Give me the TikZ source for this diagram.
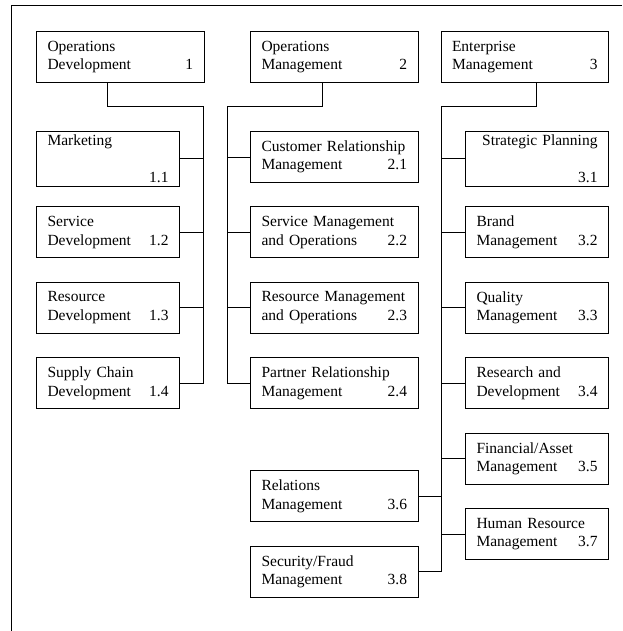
\documentclass[tikz,border=0pt]{standalone}
\usepackage{fontspec}
\setmainfont{Liberation Serif}
\begin{document}
\begin{tikzpicture}[x=1pt,y=-1pt,
    unit/.style={draw,line width=1pt,anchor=north west,align=left,inner xsep=11pt,minimum height=51pt,font=\fontsize{15.5}{18.5}\selectfont},
    wide/.style={unit,text width=145.5pt},
    narrow/.style={unit,text width=121pt},
    link/.style={line width=0.9pt}]
    \useasboundingbox (0,0) rectangle (622,631);
    \draw[line width=0.8pt] (622,5) -| (11,631);

    % top level
    \node[wide] (od) at (36,31) {Operations\\Development\hfill 1};
    \node[wide] (om) at (250,31) {Operations\\Management\hfill 2};
    \node[wide] (em) at (440.5,31) {Enterprise\\Management\hfill 3};

    % operations development
    \node[narrow] (mk) at (36,131) {Marketing\\\null\hfill 1.1};
    \node[narrow] (sv) at (36,206.4) {Service\\Development\hfill 1.2};
    \node[narrow] (rs) at (36,281.8) {Resource\\Development\hfill 1.3};
    \node[narrow] (sc) at (36,357.2) {Supply Chain\\Development\hfill 1.4};

    % operations management
    \node[wide] (cr) at (250,131) {Customer Relationship\\Management\hfill 2.1};
    \node[wide] (sm) at (250,206.4) {Service Management\\and Operations\hfill 2.2};
    \node[wide] (rm) at (250,281.8) {Resource Management\\and Operations\hfill 2.3};
    \node[wide] (pr) at (250,357.2) {Partner Relationship\\Management\hfill 2.4};

    % enterprise management
    \node[narrow] (sp) at (465,131) {\null\hfill Strategic Planning\\\null\hfill 3.1};
    \node[narrow] (bm) at (465,206.4) {Brand\\Management\hfill 3.2};
    \node[narrow] (qm) at (465,281.8) {Quality\\Management\hfill 3.3};
    \node[narrow] (rd) at (465,357.2) {Research and\\Development\hfill 3.4};
    \node[narrow] (fa) at (465,432.6) {Financial/Asset\\Management\hfill 3.5};
    \node[narrow] (hr) at (465,508) {Human Resource\\Management\hfill 3.7};
    \node[wide] (rl) at (250,470.3) {Relations\\Management\hfill 3.6};
    \node[wide] (sf) at (250,545.7) {Security/Fraud\\Management\hfill 3.8};

    % connectors
    \coordinate (j1) at (203,106);
    \coordinate (j2) at (227,106);
    \coordinate (j3) at (441,106);
    \draw[link] ([xshift=-12.5pt]od.south) |- (j1) |- (sc.east);
    \foreach \n in {mk,sv,rs} \draw[link] (j1 |- \n.east) -- (\n.east);
    \draw[link] ([xshift=-12pt]om.south) |- (j2) |- (pr.west);
    \foreach \n in {cr,sm,rm} \draw[link] (j2 |- \n.west) -- (\n.west);
    \draw[link] ([xshift=12pt]em.south) |- (j3) |- (sf.east);
    \foreach \n in {sp,bm,qm,rd,fa,hr} \draw[link] (j3 |- \n.west) -- (\n.west);
    \draw[link] (j3 |- rl.east) -- (rl.east);
\end{tikzpicture}
\end{document}
